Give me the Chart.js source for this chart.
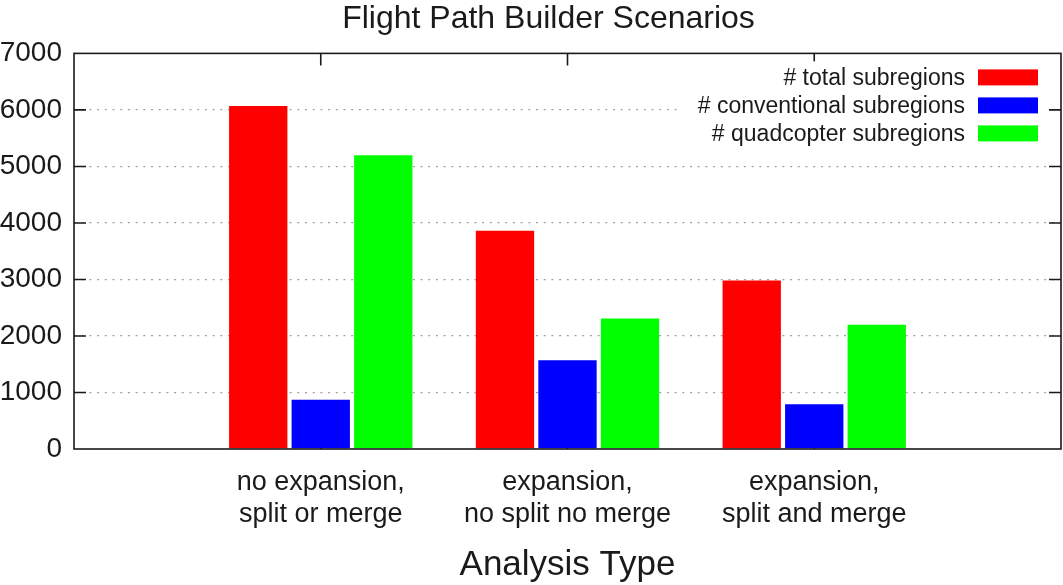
<!DOCTYPE html>
<html>
<head>
<meta charset="utf-8">
<script src="https://cdn.jsdelivr.net/npm/chart.js@4/dist/chart.umd.min.js"></script>
<style>
  body { margin: 0; background: #fff; }
  canvas { display: block; }
</style>
</head>
<body>
<canvas id="fpbChart" width="1063" height="585"></canvas>
<script>
// data
const scenarios = [
  ['no expansion,', 'split or merge'],
  ['expansion,', 'no split no merge'],
  ['expansion,', 'split and merge']
];
const totalSubregions = [6070, 3860, 2980];
const conventionalSubregions = [870, 1570, 790];
const quadcopterSubregions = [5200, 2310, 2200];
const yTicks = [0, 1000, 2000, 3000, 4000, 5000, 6000, 7000];

const FONT = 'Liberation Sans, Arial, sans-serif';

// gnuplot style: empty slot at each end so groups sit at 1, 2, 3
const labels = ['', ...scenarios, ''];
const pad = (arr) => [null, ...arr, null];

// nudge the title a bit right, gnuplot centres it off the canvas middle
const titleNudge = {
  id: 'titleNudge',
  afterLayout(chart) {
    if (chart.titleBlock) chart.titleBlock.left += 36;
  }
};

// inward tics on all four sides (mirrored), drawn under the bars
const ticsPlugin = {
  id: 'tics',
  beforeDatasetsDraw(chart) {
    const { ctx, chartArea: a, scales } = chart;
    ctx.save();
    ctx.strokeStyle = '#1a1a1a';
    ctx.lineWidth = 1.6;
    ctx.beginPath();
    yTicks.slice(1, -1).forEach(v => {
      const y = scales.y.getPixelForValue(v);
      ctx.moveTo(a.left, y); ctx.lineTo(a.left + 12, y);
      ctx.moveTo(a.right, y); ctx.lineTo(a.right - 12, y);
    });
    for (let i = 1; i <= scenarios.length; i++) {
      const x = scales.x.getPixelForValue(i);
      ctx.moveTo(x, a.top); ctx.lineTo(x, a.top + 12);
      ctx.moveTo(x, a.bottom); ctx.lineTo(x, a.bottom - 12);
    }
    ctx.stroke();
    ctx.restore();
  }
};

// key in the top right corner: text right aligned, swatch after it
const keyPlugin = {
  id: 'key',
  afterDatasetsDraw(chart) {
    const { ctx, chartArea: a } = chart;
    const sets = chart.data.datasets;
    const boxRight = a.right - 23;
    const textRight = boxRight - 73;
    ctx.save();
    ctx.font = '23px ' + FONT;
    const widest = Math.max(...sets.map(ds => ctx.measureText(ds.label).width));
    // blank the key area so the grid doesn't run through it
    const keyLeft = textRight - widest - 20;
    ctx.fillStyle = '#fff';
    ctx.fillRect(keyLeft, a.top + 8, a.right - 14 - keyLeft, sets.length * 28 + 4);
    ctx.textAlign = 'right';
    ctx.textBaseline = 'middle';
    sets.forEach((ds, i) => {
      const cy = a.top + 24 + i * 28;
      ctx.fillStyle = ds.backgroundColor;
      ctx.fillRect(boxRight - 60, cy - 8, 60, 16);
      ctx.fillStyle = '#1a1a1a';
      ctx.fillText(ds.label, textRight, cy + 1);
    });
    ctx.restore();
  }
};

// plot border box on top
const borderPlugin = {
  id: 'border',
  afterDatasetsDraw(chart) {
    const { ctx, chartArea: a } = chart;
    ctx.save();
    ctx.strokeStyle = '#1a1a1a';
    ctx.lineWidth = 1.6;
    ctx.strokeRect(a.left, a.top, a.right - a.left, a.bottom - a.top);
    ctx.restore();
  }
};

new Chart(document.getElementById('fpbChart'), {
  type: 'bar',
  data: {
    labels: labels,
    datasets: [
      { label: '# total subregions', data: pad(totalSubregions), backgroundColor: '#ff0000' },
      { label: '# conventional subregions', data: pad(conventionalSubregions), backgroundColor: '#0000ff' },
      { label: '# quadcopter subregions', data: pad(quadcopterSubregions), backgroundColor: '#00ff00' }
    ]
  },
  options: {
    responsive: false,
    animation: false,
    layout: { padding: { left: 0, right: 2, top: 0, bottom: 0 } },
    datasets: { bar: { categoryPercentage: 0.76, barPercentage: 0.933 } },
    plugins: {
      legend: { display: false },
      tooltip: { enabled: false },
      title: {
        display: true,
        text: 'Flight Path Builder Scenarios',
        color: '#1a1a1a',
        font: { family: FONT, size: 32, weight: 'normal' },
        padding: { top: 0, bottom: 15 }
      }
    },
    scales: {
      x: {
        offset: false,
        grid: { display: false, drawTicks: false },
        border: { display: false },
        ticks: {
          color: '#1a1a1a',
          font: { family: FONT, size: 27, lineHeight: 1.2 },
          padding: 17,
          maxRotation: 0,
          autoSkip: false
        },
        title: {
          display: true,
          text: 'Analysis Type',
          color: '#1a1a1a',
          font: { family: FONT, size: 35, lineHeight: 1.1 },
          padding: 0
        },
        afterFit: (scale) => {
          scale.paddingLeft = 0;
          scale.paddingRight = 0;
          scale.height = 136;
        }
      },
      y: {
        min: 0,
        max: 7000,
        afterBuildTicks: (scale) => { scale.ticks = yTicks.map(v => ({ value: v })); },
        afterFit: (scale) => { scale.width = 74; },
        grid: {
          drawTicks: false,
          color: (c) => (c.tick && (c.tick.value === 0 || c.tick.value === 7000)) ? 'rgba(0,0,0,0)' : '#a0a0a0',
          lineWidth: 1.3
        },
        border: { display: false, dash: [2, 5.7] },
        ticks: {
          color: '#1a1a1a',
          font: { family: FONT, size: 28 },
          padding: 12,
          callback: (v) => String(v)
        }
      }
    }
  },
  plugins: [titleNudge, ticsPlugin, keyPlugin, borderPlugin]
});
</script>
</body>
</html>
